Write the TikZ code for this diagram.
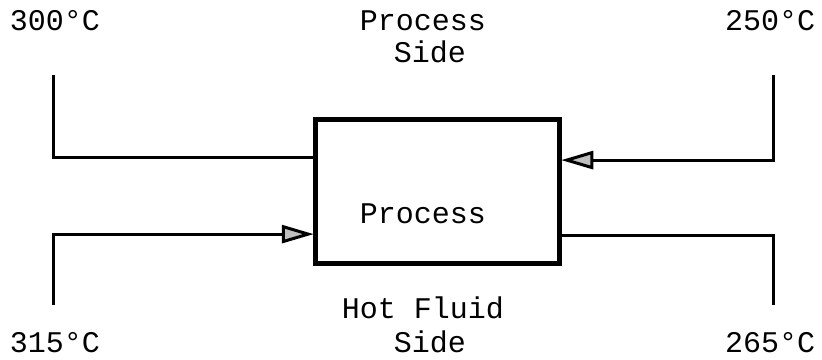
\documentclass[tikz,border=0pt]{standalone}
\usepackage{fontspec}
\setmainfont{Liberation Mono}
\usetikzlibrary{arrows.meta,calc}
\begin{document}
\begin{tikzpicture}[x=1pt,y=-1pt,
  lbl/.style={font=\fontsize{30}{33}\selectfont, inner sep=0pt, anchor=base},
  pipe/.style={line width=3pt, line join=miter},
  flow/.style={pipe, -{Triangle[length=32pt,width=18pt,fill=gray!50]}, shorten >=-1pt},
  procbox/.style={draw, line width=5.5pt, minimum width=244pt, minimum height=144pt, inner sep=0pt}]
\useasboundingbox (0,0) rectangle (822,359);
\node[procbox] (proc) at (437.5,191.5) {};
\node[lbl] (ptext) at (423,223) {Process};
\node[lbl] (t300) at (55,30) {300°C};
\node[lbl] (t250) at (770,30) {250°C};
\node[lbl] (t315) at (55,352) {315°C};
\node[lbl] (t265) at (770,352) {265°C};
\node[lbl] (pside1) at (423,30) {Process};
\node[lbl] (pside2) at (430,62) {Side};
\node[lbl] (hside1) at (423,318) {Hot Fluid};
\node[lbl] (hside2) at (430,352) {Side};
\coordinate (tl) at (53,75);
\coordinate (tr) at (773,75);
\coordinate (bl) at (53,305);
\coordinate (br) at (773,305);
\coordinate (w1) at ($(proc.north west)!0.275!(proc.south west)$);
\coordinate (w2) at ($(proc.north west)!0.785!(proc.south west)$);
\coordinate (e1) at ($(proc.north east)!0.29!(proc.south east)$);
\coordinate (e2) at ($(proc.north east)!0.795!(proc.south east)$);
\draw[pipe] (tl) |- (w1);
\draw[flow] (bl) |- (w2);
\draw[flow] (tr) |- (e1);
\draw[pipe] (e2) -| (br);
\end{tikzpicture}
\end{document}
